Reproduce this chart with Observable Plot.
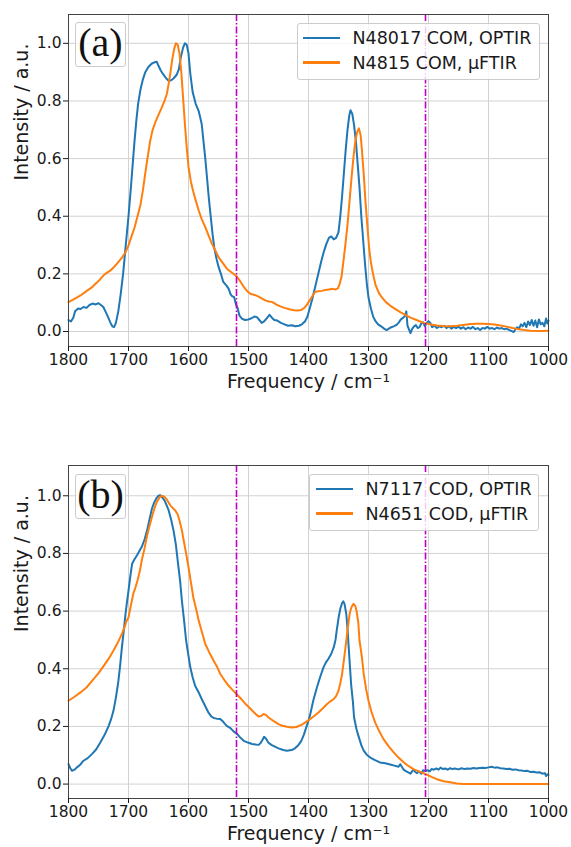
<!DOCTYPE html>
<html>
<head>
<meta charset="utf-8">
<script src="https://cdn.jsdelivr.net/npm/d3@7"></script>
<script src="https://cdn.jsdelivr.net/npm/@observablehq/plot@0.6"></script>
<style>
  html, body { margin: 0; padding: 0; background: #fff; }
  #wrap { position: relative; width: 571px; height: 847px; overflow: hidden; font-family: "DejaVu Sans", sans-serif; }
  #wrap svg { display: block; }
  .legend { position: absolute; background: rgba(255,255,255,0.8); border: 1px solid #cccccc; border-radius: 3px; box-sizing: border-box; }
  .legend .sw { position: absolute; height: 2.5px; }
  .legend .tx { position: absolute; font-size: 17.5px; line-height: 20px; color: #1a1a1a; white-space: nowrap; }
  .tag { position: absolute; background: rgba(255,255,255,0.8); border: 1px solid #cccccc; border-radius: 3px; box-sizing: border-box;
         font-family: "Liberation Serif", "DejaVu Serif", serif; font-size: 40px; color: #111; text-align: center; }
</style>
</head>
<body>
<div id="wrap"></div>
<script>
// ---- shared axis data ----
const xTicks = [1800, 1700, 1600, 1500, 1400, 1300, 1200, 1100, 1000];
const yTicks = [0.0, 0.2, 0.4, 0.6, 0.8, 1.0];
const markerLines = [1520, 1205];
const xLabel = "Frequency / cm\u207B\u00B9";
const yLabel = "Intensity / a.u.";

// ---- panel (a) ----
const seriesNamesA = ["N48017 COM, OPTIR", "N4815 COM, \u00B5FTIR"];
const aBlueF = [1800,1796,1792,1789,1784,1780,1775,1770,1765,1760,1755,1750,1746,1742,1738,1734,1730,1727,1724,1721,1717,1713,1709,1705,1700,1696,1693,1690,1687,1684,1680,1676,1672,1667,1661,1656,1653,1650,1646,1642,1637,1633,1629,1625,1620,1616,1613,1609,1606,1603,1600,1597,1593,1588,1583,1578,1575,1572,1569,1566,1563,1560,1557,1553,1550,1546,1542,1537,1533,1530,1527,1524,1521,1518,1515,1511,1506,1500,1495,1490,1486,1482,1478,1474,1470,1465,1461,1457,1452,1446,1440,1434,1428,1422,1416,1411,1406,1402,1398,1394,1390,1386,1382,1378,1374,1370,1366,1362,1358,1354,1350,1347,1344,1341,1338,1335,1332,1330,1327,1324,1321,1318,1315,1312,1309,1306,1303,1300,1296,1292,1288,1284,1279,1274,1270,1266,1262,1258,1254,1250,1246,1242,1239,1237,1235,1232,1230,1227,1224,1221,1218,1215,1212,1209,1206,1203,1200,1197,1194,1190,1186,1182,1178,1174,1170,1166,1162,1158,1154,1150,1146,1142,1138,1134,1130,1126,1122,1118,1114,1110,1106,1102,1098,1094,1090,1086,1082,1078,1074,1070,1066,1062,1058,1055,1052,1049,1046,1043,1040,1037,1034,1031,1028,1025,1022,1019,1016,1013,1010,1007,1004,1002,1000];
const aBlueI = [.040,.035,.048,.070,.080,.078,.085,.082,.092,.097,.094,.098,.092,.085,.068,.050,.030,.018,.015,.030,.070,.130,.200,.290,.400,.500,.580,.660,.730,.790,.840,.875,.900,.918,.930,.935,.936,.922,.905,.892,.878,.870,.872,.878,.890,.910,.950,.985,1.0,.995,.965,.895,.830,.790,.765,.720,.660,.600,.530,.460,.400,.340,.290,.250,.225,.200,.172,.160,.148,.130,.122,.120,.095,.080,.055,.045,.040,.042,.046,.052,.050,.040,.030,.035,.045,.058,.048,.040,.038,.030,.025,.020,.022,.018,.020,.025,.035,.050,.080,.110,.145,.180,.215,.250,.280,.305,.325,.330,.320,.325,.345,.400,.470,.550,.630,.700,.750,.768,.755,.715,.660,.580,.500,.400,.320,.240,.170,.118,.080,.050,.035,.025,.018,.010,.005,.010,.015,.018,.022,.030,.042,.048,.055,.070,.020,.005,-.006,.010,.018,.022,.012,.015,.028,.032,.018,.030,.036,.030,.015,.020,.012,.018,.015,.020,.012,.018,.010,.016,.012,.017,.010,.015,.008,.014,.010,.016,.008,.012,.005,.012,.010,.016,.010,.012,.008,.014,.010,.012,.008,.010,.006,.002,-.002,.008,.015,.010,.025,.018,.030,.015,.035,.022,.040,.020,.038,.015,.042,.025,.030,.018,.045,.028,.038];
const aOrangeF = [1800,1790,1780,1770,1760,1750,1740,1730,1725,1718,1711,1705,1700,1695,1690,1685,1680,1676,1672,1668,1664,1660,1655,1650,1645,1640,1636,1633,1630,1627,1624,1621,1618,1615,1612,1609,1606,1603,1600,1596,1592,1588,1583,1578,1572,1566,1561,1555,1550,1543,1536,1528,1520,1514,1508,1502,1497,1490,1484,1478,1472,1466,1460,1454,1448,1440,1432,1424,1418,1412,1407,1402,1398,1393,1389,1384,1378,1372,1366,1360,1355,1351,1348,1345,1342,1339,1335,1331,1328,1325,1322,1319,1316,1313,1311,1308,1305,1302,1299,1296,1292,1288,1283,1278,1271,1264,1255,1247,1238,1230,1220,1208,1196,1186,1175,1164,1152,1142,1130,1120,1110,1100,1090,1080,1070,1060,1050,1040,1030,1020,1010,1000];
const aOrangeI = [.102,.113,.125,.140,.155,.175,.198,.212,.222,.238,.256,.275,.299,.330,.360,.400,.440,.490,.550,.606,.660,.698,.728,.752,.775,.800,.825,.860,.900,.945,.980,1.0,.995,.965,.900,.810,.720,.640,.572,.520,.485,.455,.420,.390,.362,.330,.305,.280,.258,.238,.218,.205,.192,.175,.155,.140,.131,.127,.122,.115,.108,.104,.102,.094,.088,.082,.077,.074,.073,.075,.082,.095,.108,.125,.137,.140,.141,.144,.146,.148,.146,.150,.165,.190,.240,.293,.370,.467,.540,.606,.660,.692,.705,.680,.630,.548,.450,.370,.290,.240,.195,.160,.135,.119,.102,.090,.078,.067,.057,.048,.040,.030,.024,.021,.019,.018,.020,.023,.026,.027,.027,.026,.024,.021,.017,.012,.008,.005,.003,.002,.002,.003];

// ---- panel (b) ----
const seriesNamesB = ["N7117 COD, OPTIR", "N4651 COD, \u00B5FTIR"];
const bBlueF = [1800,1797,1794,1790,1786,1781,1775,1768,1761,1754,1747,1740,1733,1729,1725,1721,1717,1714,1711,1708,1705,1702,1700,1697,1694,1690,1686,1682,1678,1673,1669,1665,1661,1657,1653,1650,1647,1644,1640,1636,1633,1629,1625,1621,1618,1614,1611,1607,1604,1600,1597,1593,1589,1583,1578,1572,1567,1562,1558,1553,1547,1543,1539,1535,1530,1525,1519,1514,1508,1501,1494,1488,1483,1480,1477,1474,1471,1467,1462,1456,1450,1442,1436,1428,1422,1417,1412,1408,1404,1400,1397,1392,1386,1380,1375,1371,1367,1362,1358,1355,1353,1350,1347,1344,1342,1340,1337,1335,1333,1331,1329,1326,1324,1320,1316,1312,1308,1303,1297,1290,1281,1272,1264,1257,1250,1247,1245,1241,1237,1233,1230,1227,1225,1222,1219,1216,1212,1209,1205,1202,1198,1195,1191,1187,1183,1180,1176,1172,1168,1164,1160,1156,1150,1145,1140,1135,1130,1125,1120,1115,1110,1105,1100,1095,1090,1085,1080,1075,1070,1065,1060,1055,1050,1045,1040,1035,1030,1025,1020,1015,1010,1006,1004,1002,1000];
const bBlueI = [.069,.055,.046,.050,.058,.066,.081,.090,.104,.120,.144,.170,.202,.225,.255,.300,.355,.410,.474,.530,.590,.640,.671,.720,.764,.780,.793,.808,.822,.850,.880,.918,.955,.978,.993,1.0,1.002,.995,.984,.965,.949,.918,.880,.830,.775,.705,.636,.560,.498,.445,.405,.370,.341,.318,.295,.270,.249,.235,.229,.227,.226,.218,.208,.200,.194,.183,.174,.162,.150,.144,.139,.137,.136,.142,.152,.164,.158,.144,.136,.130,.124,.118,.116,.118,.125,.135,.150,.170,.195,.220,.243,.290,.335,.375,.405,.422,.434,.452,.474,.500,.532,.575,.608,.628,.634,.625,.590,.540,.474,.410,.347,.285,.231,.190,.162,.135,.116,.102,.092,.084,.075,.072,.068,.064,.060,.069,.062,.049,.044,.040,.036,.045,.050,.042,.038,.044,.036,.048,.045,.048,.044,.052,.050,.054,.050,.057,.052,.054,.050,.055,.052,.054,.051,.055,.052,.054,.053,.056,.054,.056,.057,.056,.058,.060,.057,.058,.055,.054,.052,.053,.050,.051,.048,.047,.045,.046,.042,.043,.040,.041,.036,.038,.028,.034,.032];
const bOrangeF = [1800,1790,1780,1770,1760,1750,1741,1733,1725,1718,1711,1706,1703,1700,1696,1692,1688,1685,1681,1678,1673,1669,1665,1661,1657,1653,1648,1644,1640,1637,1633,1630,1626,1622,1618,1615,1611,1608,1604,1600,1596,1592,1587,1583,1578,1572,1565,1558,1552,1547,1540,1533,1526,1519,1512,1505,1500,1494,1488,1483,1479,1475,1471,1467,1462,1456,1450,1443,1436,1428,1420,1411,1404,1397,1390,1383,1376,1369,1363,1358,1354,1350,1347,1344,1341,1337,1334,1331,1328,1325,1322,1320,1317,1315,1311,1308,1304,1300,1295,1289,1282,1275,1266,1258,1250,1241,1233,1225,1215,1205,1195,1186,1175,1164,1153,1142,1120,1100,1080,1060,1040,1020,1000];
const bOrangeI = [.289,.303,.318,.335,.360,.385,.411,.435,.463,.490,.521,.548,.567,.578,.620,.660,.685,.706,.740,.775,.820,.862,.895,.926,.955,.978,.995,1.0,.996,.990,.976,.966,.957,.949,.935,.914,.880,.845,.800,.752,.700,.648,.605,.567,.530,.486,.455,.428,.405,.382,.360,.341,.325,.310,.295,.278,.268,.255,.243,.234,.236,.243,.240,.232,.224,.216,.208,.202,.199,.196,.198,.206,.216,.226,.237,.249,.263,.278,.288,.295,.305,.324,.350,.382,.430,.498,.550,.596,.615,.625,.618,.602,.560,.498,.440,.382,.330,.289,.250,.214,.183,.156,.130,.110,.092,.075,.062,.052,.043,.035,.025,.017,.010,.006,.002,0,0,0,0,0,0,0,0];

const colors = ["#1f77b4", "#ff7f0e"];
const magenta = "#bf00bf";

function pts(F, I) { return F.map((f, i) => ({f, v: I[i]})); }

function panel({blue, orange, yDomain, height, marginTop, marginBottom}) {
  return Plot.plot({
    width: 571, height, marginTop, marginBottom, marginLeft: 68, marginRight: 23,
    style: {fontFamily: "DejaVu Sans", fontSize: "15.5px", color: "#1a1a1a", background: "#fff"},
    x: {domain: [1800, 1000]},
    y: {domain: yDomain},
    marks: [
      Plot.gridX({ticks: xTicks, stroke: "#d2d2d2", strokeOpacity: 1, strokeWidth: 1}),
      Plot.gridY({ticks: yTicks, stroke: "#d2d2d2", strokeOpacity: 1, strokeWidth: 1}),
      Plot.line(blue, {x: "f", y: "v", stroke: colors[0], strokeWidth: 2}),
      Plot.line(orange, {x: "f", y: "v", stroke: colors[1], strokeWidth: 2}),
      Plot.ruleX(markerLines, {stroke: magenta, strokeWidth: 1.6, strokeDasharray: "7,2,1.5,2"}),
      Plot.frame({stroke: "#444", strokeWidth: 1}),
      Plot.axisX({ticks: xTicks, tickSize: 5, tickPadding: 2, tickFormat: d => String(d), label: null, fontSize: 15.5}),
      Plot.axisY({ticks: yTicks, tickSize: 5, tickPadding: 2, tickFormat: d3.format(".1f"), label: null, fontSize: 15.5}),
      Plot.text([xLabel], {text: d => d, frameAnchor: "bottom", dy: 41, fontSize: 19, fill: "#1a1a1a"}),
      Plot.text([yLabel], {text: d => d, frameAnchor: "left", dx: -47, rotate: -90, fontSize: 19, fill: "#1a1a1a"})
    ]
  });
}

const wrap = document.getElementById("wrap");
wrap.appendChild(panel({blue: pts(aBlueF, aBlueI), orange: pts(aOrangeF, aOrangeI), yDomain: [-0.052, 1.1], height: 423, marginTop: 14, marginBottom: 77}));
wrap.appendChild(panel({blue: pts(bBlueF, bBlueI), orange: pts(bOrangeF, bOrangeI), yDomain: [-0.05, 1.105], height: 424, marginTop: 42, marginBottom: 49}));

function addLegend(names, left, top, width, height, swLeft, txLeft) {
  const d = document.createElement("div");
  d.className = "legend";
  Object.assign(d.style, {left: left + "px", top: top + "px", width: width + "px", height: height + "px"});
  const rows = [14.5, 39];
  names.forEach((n, i) => {
    const s = document.createElement("div");
    s.className = "sw";
    Object.assign(s.style, {left: swLeft + "px", width: "37px", top: (rows[i] - 1.25) + "px", background: colors[i]});
    const t = document.createElement("div");
    t.className = "tx";
    Object.assign(t.style, {left: txLeft + "px", top: (rows[i] - 10) + "px"});
    t.textContent = n;
    d.appendChild(s); d.appendChild(t);
  });
  wrap.appendChild(d);
}
function addTag(label, left, top) {
  const d = document.createElement("div");
  d.className = "tag";
  Object.assign(d.style, {left: left + "px", top: top + "px", width: "51px", height: "45px", lineHeight: "40px"});
  d.textContent = label;
  wrap.appendChild(d);
}
addLegend(seriesNamesA, 297, 22.5, 243, 57, 4.5, 54.5);
addLegend(seriesNamesB, 309, 473.5, 230, 57.5, 5.5, 55.5);
addTag("(a)", 75, 22);
addTag("(b)", 75, 473.5);
</script>
</body>
</html>
